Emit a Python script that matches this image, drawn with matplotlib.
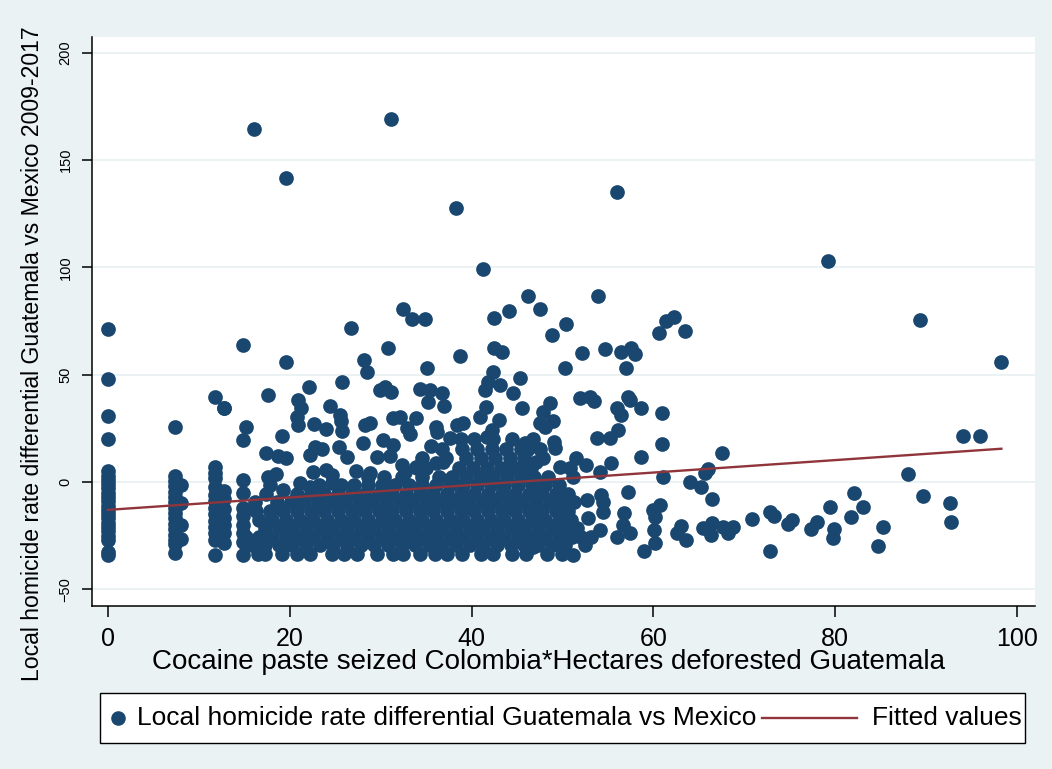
import matplotlib
matplotlib.use("Agg")
import matplotlib.pyplot as plt
from matplotlib.lines import Line2D
from matplotlib.patches import Rectangle

plt.rcParams['font.family'] = ['Liberation Sans', 'DejaVu Sans']

NAVY = '#1A476F'
MAROON = '#90353B'
BG = '#EAF2F3'

# ---- data ----
# column of observations at x = 0
col0_y = [71.2, 47.8, 30.8, 19.9, 5.2, 3.0, 1.0, -1.0, -3.0, -5.0, -7.0, -9.0,
          -11.0, -13.0, -15.0, -17.0, -19.0, -21.0, -23.0, -25.0, -27.0, -32.5, -34.0]
# column at x ~ 7.4 / 8.0
col7_y = [25.5, 2.6, 0.5, -2.0, -4.5, -7.0, -9.5, -12.0, -14.5, -17.0, -19.5,
          -22.0, -24.5, -27.0, -28.8, -33.3]
col8_y = [-1.5, -10.0, -20.0, -26.5]
# column at x ~ 11.8 / 12.8
col12_y = [39.6, 7.2, 4.0, 1.7, -2.2, -6.1, -9.0, -12.0, -15.0, -18.0, -21.0,
           -24.0, -27.0, -34.0]
col13_y = [34.3, -4.0, -8.0, -12.5, -17.0, -20.0, -24.0, -28.6]
# column at x ~ 14.9
col15_y = [0.9, -5.3, -12.0, -16.0, -20.0, -24.0, -28.0, -34.0]

# scattered observations (x, y)
scat_x = [16.1, 31.1, 19.6, 38.3, 41.3, 56.0, 79.2, 89.3, 98.3,
          46.2, 53.9, 32.5, 33.5, 34.9, 26.7, 42.5, 44.1, 47.5, 50.4, 48.8,
          60.6, 61.4, 62.3, 63.5, 14.9,
          54.7, 56.4, 57.6, 58.0, 57.0, 52.2,
          38.7, 42.5, 43.3, 30.8, 35.1, 50.3, 19.6, 28.2, 28.5,
          42.4, 41.8, 43.1, 41.5, 45.3, 44.6, 45.5,
          35.4, 36.7, 37.0, 35.2, 34.3,
          41.6, 40.9, 43.0, 42.2, 41.7,
          47.9, 48.6, 48.1, 49.0, 47.5, 49.1, 49.2,
          51.9, 53.0, 53.5, 56.0, 56.5, 57.2, 57.4, 58.7, 61.0,
          56.1, 55.2, 53.8, 61.0, 58.7, 55.4, 67.6, 66.0, 65.7, 61.1, 64.0, 65.3, 66.5,
          57.2, 54.2, 54.5, 54.5, 52.7, 52.8, 54.1,
          56.8, 56.7, 56.0, 57.4, 60.0, 60.7, 60.2, 60.1, 60.2, 59.0,
          63.1, 62.6, 63.6, 65.5, 66.5, 66.4, 67.7, 68.2, 68.8, 70.9, 72.8, 73.3, 72.8,
          74.8, 75.3, 77.4, 78.0, 79.4, 79.9, 79.8, 81.7, 82.1, 83.1, 85.3, 84.7,
          88.0, 89.7, 92.6, 92.8, 94.1, 95.9,
          46.8, 50.1, 51.2, 52.1,
          45.9, 46.1, 45.7, 47.1, 49.7, 52.6, 54.1,
          12.8, 17.6, 22.1, 20.9, 21.2, 20.8, 20.9, 19.1, 15.2, 14.9,
          24.4, 25.5, 25.6, 25.8, 22.7, 24.0, 25.8, 28.3, 28.1, 28.8,
          29.9, 30.5, 31.1,
          31.4, 32.1, 33.9, 32.9, 33.2, 36.1, 36.2, 35.5, 38.4, 39.1, 37.6,
          30.3, 31.4, 29.6, 31.0, 32.3, 33.9, 36.9, 36.1,
          17.4, 18.7, 19.6, 22.8, 23.6, 22.2, 25.4, 26.3, 27.3, 28.6,
          17.6, 18.5, 17.8, 19.3, 22.6, 24.0, 24.7, 24.6, 21.1, 22.2, 28.8, 32.7, 34.0]
scat_y = [164.3, 169.0, 141.7, 127.8, 99.4, 135.0, 103.0, 75.5, 56.0,
          86.5, 86.5, 80.5, 76.0, 76.0, 71.8, 76.4, 79.5, 80.5, 73.6, 68.6,
          69.4, 75.2, 76.7, 70.5, 63.8,
          62.0, 60.4, 62.3, 59.6, 53.3, 60.3,
          58.7, 62.6, 60.7, 62.6, 53.0, 53.0, 56.1, 56.9, 51.4,
          51.4, 46.5, 45.2, 42.9, 48.3, 41.3, 34.3,
          42.9, 41.3, 35.6, 37.4, 43.2,
          35.1, 30.4, 28.9, 24.2, 21.1,
          32.8, 37.0, 25.5, 28.4, 27.3, 18.8, 15.7,
          39.0, 39.7, 37.9, 34.6, 31.2, 39.7, 38.2, 34.6, 32.2,
          24.2, 20.4, 20.4, 17.8, 11.6, 8.7, 13.4, 6.2, 4.0, 2.5, 0.1, -2.3, -8.0,
          -4.5, -6.1, -9.2, -13.8, -8.2, -16.9, -22.4,
          -14.6, -20.0, -25.5, -23.9, -13.0, -10.7, -16.2, -22.2, -28.6, -32.0,
          -20.5, -23.9, -27.0, -21.6, -19.0, -24.7, -20.8, -24.0, -20.8, -17.3, -13.8, -15.9, -32.2,
          -19.6, -17.7, -22.0, -18.5, -11.5, -21.8, -26.1, -16.5, -5.0, -11.8, -20.8, -29.8,
          3.7, -6.5, -9.9, -18.6, 21.4, 21.4,
          -30.1, -31.7, -34.0, -25.5,
          18.0, 14.9, 7.9, 9.5, 7.1, 7.9, 4.8,
          34.3, 40.7, 44.1, 38.2, 34.3, 30.2, 26.6, 21.4, 25.8, 19.7,
          35.3, 31.0, 28.5, 23.6, 27.1, 24.9, 46.5, 26.6, 18.0, 27.3,
          42.9, 44.5, 41.8,
          29.7, 30.1, 29.9, 25.2, 22.2, 25.6, 23.4, 16.6, 26.6, 27.3, 20.4,
          19.6, 17.2, 11.8, 12.2, 7.9, 6.8, 9.5, 8.7,
          13.7, 12.3, 11.0, 16.4, 15.4, 12.6, 16.3, 11.8, 5.3, 2.5,
          2.5, 3.8, -1.4, -3.7, 4.8, 5.6, 3.4, -0.6, -0.6, -2.2, 4.0, 4.8, 6.4]

# dense cluster, read row by row (y level, x positions)
mass_levels = [-33.5, -29.5, -25.5, -21.5, -17.5, -13.5, -9.5, -5.5, -1.5,
               2.5, 6.5, 11.0, 15.5, 20.0]
mass_rows = [
    [16.5, 17.3, 19.2, 20.8, 22.2, 24.6, 26.0, 27.4, 29.6, 31.4, 32.5, 34.3, 36.0, 37.3,
     39.0, 41.0, 42.4, 44.4, 46.0, 48.3, 50.0],
    [15.8, 17.3, 18.8, 20.3, 21.8, 23.3, 24.8, 26.3, 27.8, 29.3, 30.8, 32.3, 33.8, 35.3,
     36.8, 38.3, 39.8, 41.3, 42.8, 44.3, 45.8, 47.3, 48.8, 50.3, 52.5],
    [15.2, 16.6, 18.1, 19.6, 21.1, 22.6, 24.1, 25.6, 27.1, 28.6, 30.1, 31.6, 33.1, 34.6,
     36.1, 37.6, 39.1, 40.6, 42.1, 43.6, 45.1, 46.6, 48.1, 49.6, 51.1, 53.2],
    [17.3, 18.8, 20.3, 21.8, 23.3, 24.8, 26.3, 27.8, 29.3, 30.8, 32.3, 33.8, 35.3, 36.8,
     38.3, 39.8, 41.3, 42.8, 44.3, 45.8, 47.3, 48.8, 50.3, 51.6],
    [16.6, 18.1, 19.6, 21.1, 22.6, 24.1, 25.6, 27.1, 28.6, 30.1, 31.6, 33.1, 34.6, 36.1,
     37.6, 39.1, 40.6, 42.1, 43.6, 45.1, 46.6, 48.1, 49.6, 51.0],
    [16.3, 17.8, 19.3, 20.8, 22.3, 23.8, 25.3, 26.8, 28.3, 29.8, 31.3, 32.8, 34.3, 35.8,
     37.3, 38.8, 40.3, 41.8, 43.3, 44.8, 46.3, 47.8, 49.3, 50.6],
    [16.2, 18.6, 20.1, 21.6, 23.1, 24.6, 26.1, 27.6, 29.1, 30.6, 32.1, 33.6, 35.1, 36.6,
     38.1, 39.6, 41.1, 42.6, 44.1, 45.6, 47.1, 48.6, 50.1, 51.3],
    [17.4, 20.8, 22.3, 23.8, 25.3, 26.8, 28.3, 29.8, 31.3, 32.8, 34.3, 35.8, 37.3, 38.8,
     40.3, 41.8, 43.3, 44.8, 46.3, 47.8, 49.3, 50.6],
    [23.2, 25.6, 27.1, 28.6, 30.1, 31.6, 33.1, 34.6, 36.1, 37.6, 39.1, 40.6, 42.1, 43.6,
     45.1, 46.6, 48.1, 49.6],
    [30.4, 32.4, 34.6, 36.4, 37.9, 39.4, 40.9, 42.4, 43.9, 45.4, 46.9, 48.4, 51.2],
    [35.0, 38.6, 40.2, 41.7, 43.2, 44.7, 46.5, 50.8],
    [34.5, 37.2, 39.4, 41.0, 42.6, 44.2, 45.8, 47.9, 51.5],
    [36.8, 39.0, 40.6, 42.2, 43.8, 45.4, 47.5],
    [38.8, 40.3, 42.4, 44.4, 46.8],
]

# fitted values line (end points)
fit_x = [0.0, 98.3]
fit_y = [-13.0, 15.5]

x_ticks = [0, 20, 40, 60, 80, 100]
y_ticks = [-50, 0, 50, 100, 150, 200]

# ---- assemble ----
xs, ys = [], []
xs += [0.0] * len(col0_y); ys += col0_y
xs += [7.4] * len(col7_y); ys += col7_y
xs += [8.0] * len(col8_y); ys += col8_y
xs += [11.8] * len(col12_y); ys += col12_y
xs += [12.8] * len(col13_y); ys += col13_y
xs += [14.9] * len(col15_y); ys += col15_y
xs += scat_x; ys += scat_y
for lvl, row in zip(mass_levels, mass_rows):
    xs += row
    ys += [lvl] * len(row)

W, H = 1052, 769
fig = plt.figure(figsize=(W / 100, H / 100), dpi=100, facecolor=BG)
ax = fig.add_axes([92 / W, 1 - 606 / H, (1035 - 92) / W, (606 - 37) / H])
ax.set_facecolor('white')

for yt in y_ticks:
    ax.axhline(yt, color=BG, lw=1.4, zorder=0)

ax.scatter(xs, ys, s=112, color=NAVY, linewidths=0, zorder=2)
ax.plot(fit_x, fit_y, color=MAROON, lw=1.7, zorder=3)

ax.set_xlim(-1.76, 102.0)
ax.set_ylim(-57.8, 207.4)
ax.set_xticks(x_ticks)
ax.set_yticks(y_ticks)

for s in ['top', 'right']:
    ax.spines[s].set_visible(False)
for s in ['left', 'bottom']:
    ax.spines[s].set_color('black')
    ax.spines[s].set_linewidth(1.1)

ax.tick_params(axis='x', length=8, width=1.1, pad=7, labelsize=18, colors='black')
ax.tick_params(axis='y', length=7, width=1.1, pad=7, labelsize=10.5, colors='black')
plt.setp(ax.get_yticklabels(), rotation=90, va='center')

ax.set_xlabel('Cocaine paste seized Colombia*Hectares deforested Guatemala', fontsize=20)
ax.xaxis.set_label_coords((548 - 92) / 943, (606 - 662) / 569)
ax.xaxis.label.set_va('center')
ax.set_ylabel('Local homicide rate differential Guatemala vs Mexico 2009-2017', fontsize=16.6)
ax.yaxis.set_label_coords((44 - 92) / 943, (606 - 354) / 569)

# legend box
fig.add_artist(Rectangle((100 / W, 1 - 743 / H), 925 / W, 50 / H, transform=fig.transFigure,
                         facecolor='white', edgecolor='black', lw=1.0))
ly = 1 - 718 / H
fig.add_artist(Line2D([118 / W], [ly], marker='o', ms=10.5, color=NAVY, lw=0,
                      markeredgewidth=0, transform=fig.transFigure))
fig.text(137 / W, ly, 'Local homicide rate differential Guatemala vs Mexico', fontsize=19,
         va='center', ha='left')
fig.add_artist(Line2D([762 / W, 857 / W], [ly, ly], color=MAROON, lw=1.7,
                      transform=fig.transFigure))
fig.text(872 / W, ly, 'Fitted values', fontsize=19, va='center', ha='left')

fig.savefig('out.png', dpi=100, facecolor=BG)
